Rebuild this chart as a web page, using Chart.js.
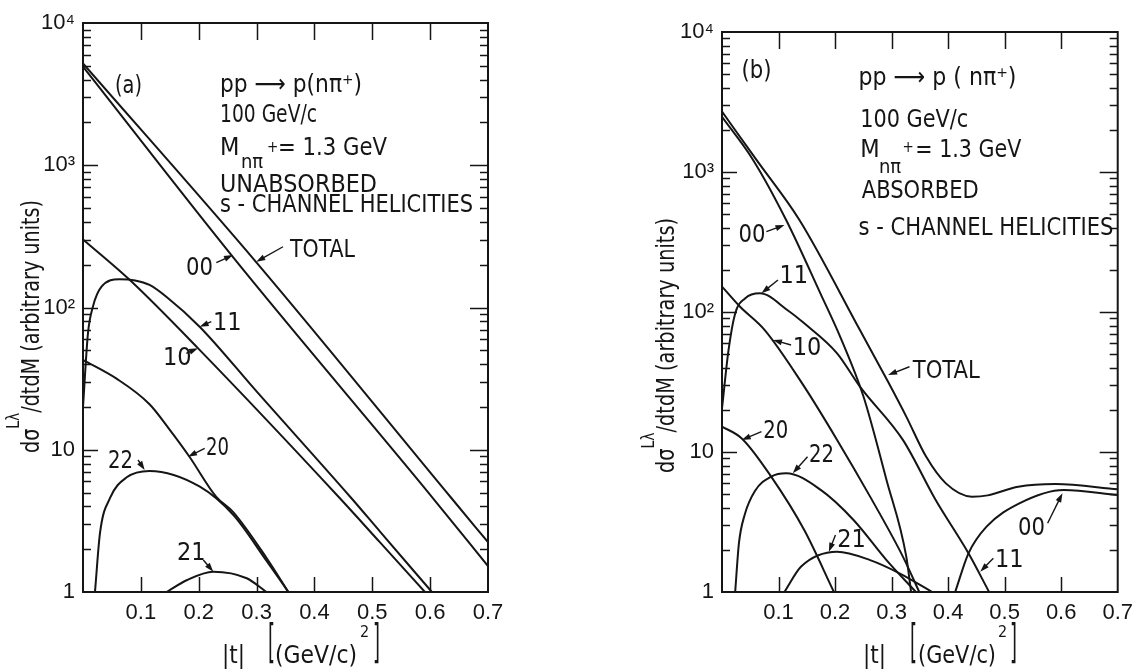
<!DOCTYPE html>
<html>
<head>
<meta charset="utf-8">
<script src="https://cdn.jsdelivr.net/npm/chart.js@4.4.1/dist/chart.umd.min.js"></script>
<style>
  html, body { margin: 0; padding: 0; background: #fff; }
  #wrap { position: relative; width: 1141px; height: 671px; overflow: hidden; }
  canvas { position: absolute; top: 0; }
  #panelA { left: 0; }
  #panelB { left: 570px; }
</style>
</head>
<body>
<div id="wrap">
  <canvas id="panelA" width="570" height="671"></canvas>
  <canvas id="panelB" width="571" height="671"></canvas>
</div>
<script>
// |t| in (GeV/c)^2, cross sections in arbitrary units

// tick labels
const xTicks = [0, 0.1, 0.2, 0.3, 0.4, 0.5, 0.6, 0.7];
const xTickLabels = ['', '0.1', '0.2', '0.3', '0.4', '0.5', '0.6', '0.7'];
const yDecades = [1, 10, 100, 1000, 10000];
const yDecadeLabels = ['1', '10', '10²', '10³', '10⁴'];

// (a) unabsorbed s-channel helicities
const aTotal_t = [0, 0.30, 0.637, 0.7];
const aTotal_v = [5200, 207, 4.56, 2.24];
const a00_t = [0, 0.26, 0.605, 0.7];
const a00_v = [4930, 224, 4.56, 1.52];
const a11_t = [0, 0.0086, 0.017, 0.032, 0.063, 0.09, 0.115, 0.144, 0.202, 0.30, 0.464, 0.513, 0.603];
const a11_v = [20, 66, 101, 140, 158, 155, 144, 119, 73, 25.7, 4.56, 2.67, 1];
const a10_t = [0, 0.081, 0.199, 0.444, 0.513, 0.591];
const a10_v = [301, 156, 51.6, 4.56, 2.24, 1];
const a20_t = [0, 0.058, 0.115, 0.15, 0.184, 0.23, 0.26, 0.317, 0.355];
const a20_v = [42.8, 31.6, 20.9, 13.8, 8.93, 4.68, 3.63, 1.74, 1];
const a22_t = [0.0207, 0.0294, 0.047, 0.0755, 0.115, 0.202, 0.26, 0.317, 0.355];
const a22_v = [1, 2.6, 4.6, 6.4, 7.1, 5.5, 3.47, 1.66, 1];
const a21_t = [0.1446, 0.179, 0.225, 0.283, 0.317];
const a21_v = [1, 1.21, 1.39, 1.25, 1];

// (b) absorbed s-channel helicities
const bTotal_t = [0, 0.061, 0.137, 0.244, 0.294, 0.326, 0.361, 0.396, 0.442, 0.47, 0.524, 0.59, 0.7];
const bTotal_v = [2700, 1220, 454, 74.3, 31.6, 17.9, 9.27, 5.97, 4.80, 4.90, 5.65, 5.90, 5.41];
const b00_t = [0, 0.055, 0.1135, 0.174, 0.2095, 0.25, 0.291, 0.326, 0.3345];
const b00_v = [2480, 1220, 454, 136, 66, 25.1, 6.31, 1.79, 1];
const b00s_t = [0.4125, 0.436, 0.468, 0.526, 0.6045, 0.7];
const b00s_v = [1, 1.89, 2.93, 4.30, 5.36, 4.93];
const b11_t = [0, 0.0116, 0.0233, 0.0407, 0.067, 0.116, 0.1455, 0.2036, 0.244, 0.32, 0.378, 0.436, 0.4725];
const b11_v = [20.5, 53.6, 97.7, 125, 136, 103, 83, 50.7, 29.3, 12.2, 4.54, 1.89, 1];
const b10_t = [0, 0.032, 0.0756, 0.1455, 0.2036, 0.262, 0.32, 0.349];
const b10_v = [152, 109, 74.3, 29.3, 12.2, 4.80, 1.79, 1];
const b20_t = [0, 0.035, 0.087, 0.1455, 0.198];
const b20_v = [15.2, 12.5, 6.67, 2.77, 1];
const b22_t = [0.0233, 0.03, 0.04, 0.058, 0.087, 0.1135, 0.1746, 0.2327, 0.291, 0.343];
const b22_v = [1, 2.24, 3.55, 5.25, 6.67, 7.05, 5.36, 3.27, 1.69, 1];
const b21_t = [0.1105, 0.14, 0.2036, 0.262, 0.314, 0.372];
const b21_v = [1, 1.52, 1.94, 1.69, 1.36, 1];

const INK = '#151515';
const FONT = "'Liberation Sans Narrow', 'DejaVu Sans Condensed', 'Liberation Sans', sans-serif";
const TICKFONT = "'Liberation Sans', 'DejaVu Sans', sans-serif";

// labels: t, log10(value) of the baseline-left corner; w = width to fit
const notesA = {
  texts: [
    {s: '(a)', t: 0.0553, lg: 3.508, w: 27},
    {s: 'pp ⟶ p(nπ⁺)', t: 0.2368, lg: 3.515, w: 142},
    {s: '100 GeV/c', t: 0.2368, lg: 3.304, w: 97},
    {s: 'M', t: 0.2368, lg: 3.072},
    {s: 'nπ', t: 0.273, lg: 2.981, size: 20},
    {s: '+', t: 0.318, lg: 3.093, size: 15},
    {s: '= 1.3 GeV', t: 0.337, lg: 3.072, w: 109},
    {s: 'UNABSORBED', t: 0.2368, lg: 2.812, w: 157},
    {s: 's - CHANNEL HELICITIES', t: 0.2368, lg: 2.671, w: 253},
    {s: 'TOTAL', t: 0.3578, lg: 2.355, w: 65},
    {s: '00', t: 0.178, lg: 2.228, w: 27},
    {s: '11', t: 0.2247, lg: 1.842},
    {s: '10', t: 0.1383, lg: 1.596},
    {s: '20', t: 0.2126, lg: 0.963, w: 23},
    {s: '22', t: 0.0432, lg: 0.872, w: 25},
    {s: '21', t: 0.1625, lg: 0.225}
  ],
  arrows: [
    [0.3457, 2.427, 0.2995, 2.322], [0.2304, 2.315, 0.2592, 2.369],
    [0.2217, 1.900, 0.2017, 1.865], [0.1785, 1.678, 0.1988, 1.713],
    [0.2103, 1.010, 0.1815, 0.951], [0.0951, 0.928, 0.1066, 0.858],
    [0.2079, 0.225, 0.2252, 0.143]
  ],
  xTitle: [
    {s: '|t|', dx: 139, dy: 71, size: 25, w: 23},
    {s: '[', dx: 185, dy: 65, size: 46, w: 7},
    {s: '(GeV/c)', dx: 192, dy: 71, size: 25, w: 82},
    {s: '2', dx: 277, dy: 45, size: 16},
    {s: ']', dx: 290, dy: 65, size: 46, w: 7}
  ],
  yTitle: {dx: 44, dy: 139, len: 253}
};

const notesB = {
  texts: [
    {s: '(b)', t: 0.0344, lg: 3.671, w: 30},
    {s: 'pp ⟶ p ( nπ⁺)', t: 0.2414, lg: 3.621, w: 158},
    {s: '100 GeV/c', t: 0.2444, lg: 3.324, w: 108},
    {s: 'M', t: 0.2444, lg: 3.109},
    {s: 'nπ', t: 0.2776, lg: 2.993, size: 20},
    {s: '+', t: 0.3194, lg: 3.143, size: 15},
    {s: '= 1.3 GeV', t: 0.342, lg: 3.109, w: 106},
    {s: 'ABSORBED', t: 0.2473, lg: 2.812, w: 117},
    {s: 's - CHANNEL HELICITIES', t: 0.2414, lg: 2.55, w: 255},
    {s: '00', t: 0.0291, lg: 2.502, w: 27},
    {s: '11', t: 0.1018, lg: 2.205},
    {s: '10', t: 0.1251, lg: 1.693},
    {s: 'TOTAL', t: 0.3374, lg: 1.526, w: 67},
    {s: '20', t: 0.0728, lg: 1.098, w: 25},
    {s: '22', t: 0.1541, lg: 0.931, w: 25},
    {s: '21', t: 0.2037, lg: 0.324},
    {s: '11', t: 0.483, lg: 0.181},
    {s: '00', t: 0.5236, lg: 0.407, w: 27}
  ],
  arrows: [
    [0.0785, 2.574, 0.1105, 2.621], [0.099, 2.229, 0.0698, 2.134],
    [0.1222, 1.764, 0.0902, 1.8], [0.3316, 1.609, 0.2938, 1.55],
    [0.0698, 1.145, 0.0349, 1.086], [0.1513, 0.966, 0.1252, 0.848],
    [0.2007, 0.407, 0.189, 0.288], [0.48, 0.241, 0.4568, 0.145],
    [0.576, 0.491, 0.6022, 0.705]
  ],
  xTitle: [
    {s: '|t|', dx: 141, dy: 71, size: 25, w: 23},
    {s: '[', dx: 188, dy: 65, size: 46, w: 7},
    {s: '(GeV/c)', dx: 196, dy: 71, size: 25, w: 78},
    {s: '2', dx: 276, dy: 45, size: 16},
    {s: ']', dx: 288, dy: 65, size: 46, w: 7}
  ],
  yTitle: {dx: 48, dy: 119, len: 255}
};

function drawText(ctx, s, x, y, size, w) {
  ctx.font = size + 'px ' + FONT;
  const nat = ctx.measureText(s).width;
  ctx.save();
  ctx.translate(x, y);
  if (w) ctx.scale(w / nat, 1);
  ctx.fillText(s, 0, 0);
  ctx.restore();
}

function arrow(ctx, x1, y1, x2, y2) {
  const a = Math.atan2(y2 - y1, x2 - x1), L = 9, H = 3;
  const c = Math.cos(a), s = Math.sin(a);
  ctx.lineWidth = 1.4;
  ctx.beginPath();
  ctx.moveTo(x1, y1);
  ctx.lineTo(x2 - L * 0.6 * c, y2 - L * 0.6 * s);
  ctx.stroke();
  ctx.beginPath();
  ctx.moveTo(x2, y2);
  ctx.lineTo(x2 - L * c + H * s, y2 - L * s - H * c);
  ctx.lineTo(x2 - L * c - H * s, y2 - L * s + H * c);
  ctx.closePath();
  ctx.fill();
}

function yTickValues() {
  const out = [];
  for (let d = 1; d < 10000; d *= 10) for (let m = 1; m < 10; m++) out.push(d * m);
  out.push(10000);
  return out;
}

const frameTicks = {
  id: 'frameTicks',
  afterDatasetsDraw(chart) {
    const {ctx, chartArea: a, scales: {x, y}} = chart;
    ctx.save();
    ctx.strokeStyle = INK;
    ctx.lineWidth = 2;
    ctx.strokeRect(a.left, a.top, a.right - a.left, a.bottom - a.top);
    ctx.lineWidth = 1.5;
    ctx.beginPath();
    x.ticks.forEach(tk => {
      if (tk.value <= 0 || tk.value >= 0.7) return;
      const px = Math.round(x.getPixelForValue(tk.value)) + 0.5;
      ctx.moveTo(px, a.bottom); ctx.lineTo(px, a.bottom - 15);
      ctx.moveTo(px, a.top); ctx.lineTo(px, a.top + 17);
    });
    y.ticks.forEach(tk => {
      if (tk.value <= 1 || tk.value >= 10000) return;
      const py = Math.round(y.getPixelForValue(tk.value)) + 0.5;
      const len = yDecades.includes(tk.value) ? 15 : 8;
      ctx.moveTo(a.left, py); ctx.lineTo(a.left + len, py);
      ctx.moveTo(a.right, py); ctx.lineTo(a.right - len - (len > 8 ? 3 : 0), py);
    });
    ctx.stroke();
    ctx.restore();
  }
};

function notesPlugin(notes) {
  return {
    id: 'notes',
    afterDraw(chart) {
      const {ctx, chartArea: a, scales: {x, y}} = chart;
      const px = t => x.getPixelForValue(t);
      const py = lg => y.getPixelForValue(Math.pow(10, lg));
      ctx.save();
      ctx.fillStyle = INK;
      ctx.strokeStyle = INK;
      ctx.textAlign = 'left';
      ctx.textBaseline = 'alphabetic';
      notes.texts.forEach(n => drawText(ctx, n.s, px(n.t), py(n.lg), n.size || 25, n.w));
      notes.arrows.forEach(r => arrow(ctx, px(r[0]), py(r[1]), px(r[2]), py(r[3])));
      notes.xTitle.forEach(n => drawText(ctx, n.s, a.left + n.dx, a.bottom + n.dy, n.size, n.w));

      // rotated y title with superscript
      const yt = notes.yTitle;
      const runs = [
        {s: 'dσ', size: 25, rise: 0},
        {s: 'Lλ', size: 18, rise: 20},
        {s: '/dtdM (arbitrary units)', size: 25, rise: 0}
      ];
      let total = 0;
      runs.forEach(r => { ctx.font = r.size + 'px ' + FONT; r.w = ctx.measureText(r.s).width; total += r.w; });
      ctx.save();
      ctx.translate(a.left - yt.dx, a.bottom - yt.dy);
      ctx.rotate(-Math.PI / 2);
      ctx.scale(yt.len / total, 1);
      let cx = 0;
      runs.forEach(r => {
        ctx.font = r.size + 'px ' + FONT;
        ctx.fillText(r.s, cx, -r.rise);
        cx += r.w;
      });
      ctx.restore();
      ctx.restore();
    }
  };
}

function lineSet(ts, vs) {
  return {
    data: ts.map((t, i) => ({x: t, y: vs[i]})),
    borderColor: INK,
    borderWidth: 2,
    pointRadius: 0,
    fill: false,
    cubicInterpolationMode: 'monotone'
  };
}

function makePanel(id, box, curves, notes) {
  return new Chart(document.getElementById(id), {
    type: 'line',
    data: {datasets: curves.map(c => lineSet(c[0], c[1]))},
    options: {
      responsive: false,
      animation: false,
      devicePixelRatio: 1,
      layout: {padding: {left: 0, top: box.top, right: box.right, bottom: 0}},
      plugins: {legend: {display: false}, tooltip: {enabled: false}},
      scales: {
        x: {
          type: 'linear', min: 0, max: 0.7,
          afterBuildTicks: s => { s.ticks = xTicks.map(v => ({value: v})); },
          afterFit: s => { s.height = box.xAxisH; },
          grid: {display: false, drawTicks: false},
          border: {display: false},
          ticks: {
            padding: 8, autoSkip: false, maxRotation: 0, color: INK,
            font: {family: TICKFONT, size: 22},
            callback: (v, i) => xTickLabels[i]
          }
        },
        y: {
          type: 'logarithmic', min: 1, max: 10000,
          afterBuildTicks: s => { s.ticks = yTickValues().map(v => ({value: v})); },
          afterFit: s => { s.width = box.yAxisW; },
          grid: {display: false, drawTicks: false},
          border: {display: false},
          ticks: {
            padding: 8, autoSkip: false, color: INK,
            font: {family: TICKFONT, size: 22},
            callback: v => { const k = yDecades.indexOf(v); return k < 0 ? '' : yDecadeLabels[k]; }
          }
        }
      }
    },
    plugins: [frameTicks, notesPlugin(notes)]
  });
}

makePanel('panelA', {top: 23, right: 82, xAxisH: 79, yAxisW: 83}, [
  [aTotal_t, aTotal_v], [a00_t, a00_v], [a11_t, a11_v], [a10_t, a10_v],
  [a20_t, a20_v], [a22_t, a22_v], [a21_t, a21_v]
], notesA);

makePanel('panelB', {top: 32, right: 18, xAxisH: 79, yAxisW: 152}, [
  [bTotal_t, bTotal_v], [b00_t, b00_v], [b00s_t, b00s_v], [b11_t, b11_v],
  [b10_t, b10_v], [b20_t, b20_v], [b22_t, b22_v], [b21_t, b21_v]
], notesB);
</script>
</body>
</html>
